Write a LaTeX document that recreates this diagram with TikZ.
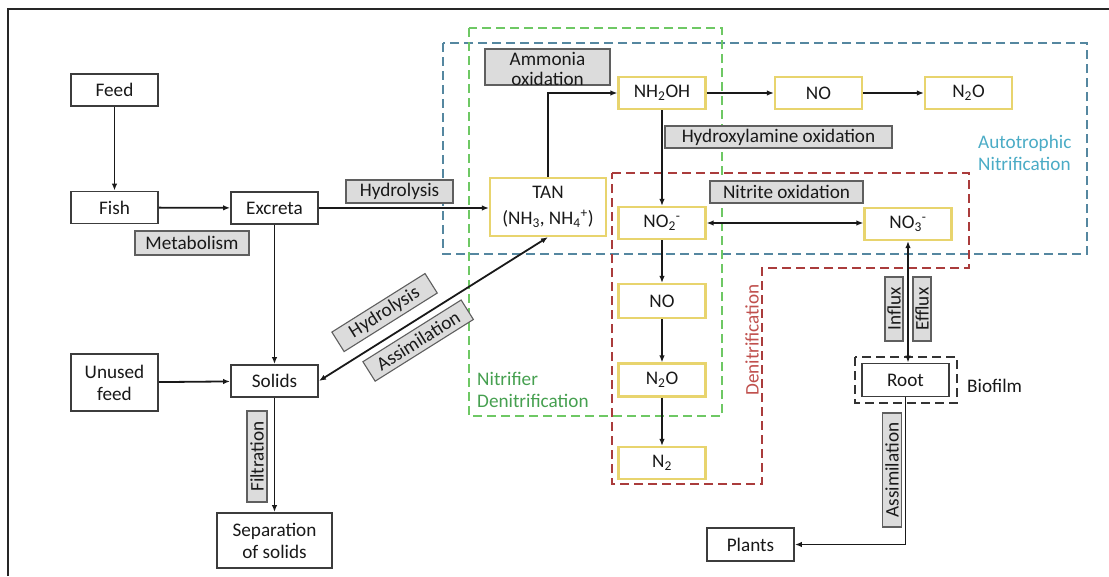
\documentclass[tikz,border=0pt]{standalone}
\usepackage{fontspec}
\setmainfont{Carlito}
\usetikzlibrary{arrows.meta,calc}
\definecolor{txt}{RGB}{25,25,25}
\definecolor{boxc}{RGB}{60,60,60}
\definecolor{yel}{RGB}{232,212,110}
\definecolor{labf}{RGB}{220,220,220}
\definecolor{labc}{RGB}{95,95,95}
\definecolor{linec}{RGB}{25,25,25}
\definecolor{bluec}{RGB}{85,135,160}
\definecolor{greenc}{RGB}{110,200,100}
\definecolor{redc}{RGB}{170,60,60}
\definecolor{autot}{RGB}{75,172,198}
\definecolor{nitrt}{RGB}{70,160,80}
\definecolor{denit}{RGB}{192,80,77}
\begin{document}
\begin{tikzpicture}[x=1pt,y=-1pt,
  font=\fontsize{19.2}{22}\selectfont,
  box/.style={draw=boxc, line width=1.9pt, fill=white, minimum width=87pt, minimum height=32pt, inner sep=1pt, align=center, text=txt},
  ybox/.style={box, draw=yel, line width=2.2pt},
  glab/.style={draw=labc, line width=1.1pt, fill=labf, inner sep=0pt, text=txt, align=center},
  conn/.style={draw=linec, line width=1.8pt, -{Latex[length=7pt,width=5.5pt]}},
  dconn/.style={draw=linec, line width=1.8pt, {Latex[length=7pt,width=5.5pt]}-{Latex[length=7pt,width=5.5pt]}},
  dashbox/.style={line width=2pt, dash pattern=on 9pt off 5pt}]
\useasboundingbox (0,0) rectangle (1109,576);
\fill[white] (0,0) rectangle (1109,576);
% frame
\draw[line width=2.2pt, draw=black!85] (8,576) -- (8,9) -- (1109,9);

% dashed regions
\draw[dashbox, draw=bluec] (443,43) rectangle (1087,254);
\draw[dashbox, draw=greenc] (469,28) rectangle (722,416);
\draw[dashbox, draw=redc] (612,173) -- (969,173) -- (969,268) -- (762,268) -- (762,484) -- (612,484) -- cycle;
\draw[dashbox, draw=black!80] (855,357) rectangle (957,403);

% nodes
\node[box] (feed) at (114.5,90) {Feed};
\node[box] (fish) at (114.5,207.5) {Fish};
\node[box] (excreta) at (274.5,208) {Excreta};
\node[box, minimum height=57pt] (unused) at (114.5,382.5) {Unused\\feed};
\node[box] (solids) at (274.5,381) {Solids};
\node[box, minimum width=115pt, minimum height=55pt] (sep) at (274.5,540.5) {Separation\\of solids};
\node[ybox, minimum width=116pt, minimum height=58pt, font=\fontsize{19.2}{26}\selectfont] (tan) at (548,207) {TAN\\(NH\textsubscript{3}, NH\textsubscript{4}\textsuperscript{+})};
\node[ybox] (nhoh) at (662,93) {NH\textsubscript{2}OH};
\node[ybox] (notop) at (818.5,93) {NO};
\node[ybox] (ntop) at (968.5,93) {N\textsubscript{2}O};
\node[ybox] (notwo) at (662,223) {NO\textsubscript{2}\textsuperscript{-}};
\node[ybox] (nothree) at (908,224) {NO\textsubscript{3}\textsuperscript{-}};
\node[ybox, minimum height=34pt] (nolow) at (662,301) {NO};
\node[ybox, minimum height=33pt] (nnolow) at (662,380) {N\textsubscript{2}O};
\node[ybox] (ntwo) at (662,463) {N\textsubscript{2}};
\node[box, minimum height=33pt] (root) at (905.5,380) {Root};
\node[box, minimum height=33pt] (plants) at (750.5,544.5) {Plants};

% connectors
\draw[conn] (feed) -- (fish);
\draw[conn] (fish) -- (excreta);
\draw[conn] (excreta.east) -- (excreta.east -| tan.west);
\draw[conn] (excreta) -- (solids);
\draw[conn] (unused) -- (solids);
\draw[conn] (solids) -- (sep);
\draw[dconn] (solids.east) -- 
  node[pos=0.34, sloped, above=11pt, glab, minimum width=110pt, minimum height=23pt] (hydd) {Hydrolysis}
  node[pos=0.39, sloped, below=6.5pt, glab, minimum width=116pt, minimum height=23pt] (assd) {Assimilation}
  (tan.south);
\draw[conn] (tan.north) |- (nhoh.west);
\draw[conn] (nhoh) -- (notop);
\draw[conn] (notop) -- (ntop);
\draw[conn] (nhoh) -- (notwo);
\draw[dconn] (notwo.east) -- (notwo.east -| nothree.west);
\draw[conn] (notwo) -- (nolow);
\draw[conn] (nolow) -- (nnolow);
\draw[conn] (nnolow) -- (ntwo);
\draw[dconn] (nothree.south) -- (nothree.south |- root.north);
\draw[conn] (root.south) |- (plants.east);

% process labels
\node[glab, minimum width=114pt, minimum height=24pt] (metab) at (192,243) {Metabolism};
\node[glab, minimum width=107pt, minimum height=23pt] (hydh) at (399.5,191.5) {Hydrolysis};
\node[glab, minimum width=125pt, minimum height=36pt] (ammox) at (547.5,67) {};
\node[align=center, text=txt, inner sep=0pt, font=\fontsize{19.2}{20}\selectfont] (ammoxt) at (547.5,68.5) {Ammonia\\oxidation};
\node[glab, minimum width=227pt, minimum height=22pt] (hydrox) at (778.5,137) {Hydroxylamine oxidation};
\node[glab, minimum width=153pt, minimum height=22pt] (nitox) at (786.5,192) {Nitrite oxidation};
\node[glab, rotate=90, minimum width=91pt, minimum height=20pt] (filt) at (257,456.5) {Filtration};
\node[glab, rotate=90, minimum width=64pt, minimum height=18pt] (influx) at (894,309) {Influx};
\node[glab, rotate=90, minimum width=64pt, minimum height=18pt] (efflux) at (922,309) {Efflux};
\node[glab, rotate=90, minimum width=114pt, minimum height=19pt] (assr) at (892,470) {Assimilation};

% region labels
\node[align=left, text=autot, anchor=west, inner sep=0pt] (autolab) at (978,153) {Autotrophic\\Nitrification};
\node[align=left, text=nitrt, anchor=west, inner sep=0pt] (nitrlab) at (477,390) {Nitrifier\\Denitrification};
\node[text=denit, rotate=90, inner sep=0pt] (denlab) at (752,340) {Denitrification};
\node[text=txt, anchor=west, inner sep=0pt] (biolab) at (967,386) {Biofilm};
\end{tikzpicture}
\end{document}
